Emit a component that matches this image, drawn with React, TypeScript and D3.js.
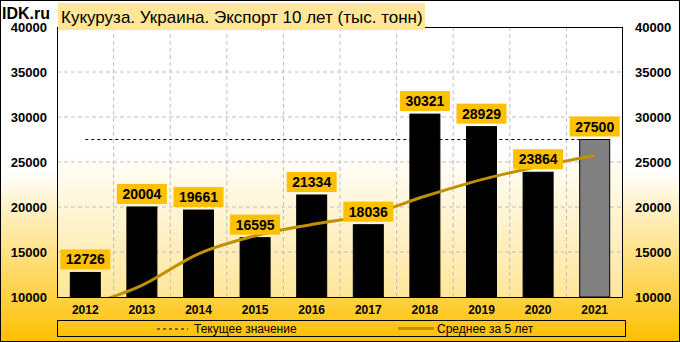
import React, {useEffect, useRef} from "react";
import * as d3 from "d3";

const years = ["2012", "2013", "2014", "2015", "2016", "2017", "2018", "2019", "2020", "2021"]
const exportValues = [12726, 20004, 19661, 16595, 21334, 18036, 30321, 28929, 23864, 27500]
const avg5Values = [9000, 11300, 14800, 16800, 18064, 19126, 21189, 23043, 24497, 25730]
const currentValue = 27500
const yTicks = [10000, 15000, 20000, 25000, 30000, 35000, 40000]

const title = "Кукуруза. Украина. Экспорт 10 лет (тыс. тонн)"
const legendCurrent = "Текущее значение"
const legendAvg = "Среднее за 5 лет"

const W = 680, H = 342
const FONT = "'Liberation Sans', Arial, sans-serif"

const App = () => {
    const ref = useRef<SVGSVGElement>(null)

    useEffect(() => {
        const svg = d3.select(ref.current)
        svg.selectAll("*").remove()

        const plot = {left: 57, right: 623, top: 27, bottom: 297}

        const x = d3.scaleBand().domain(years).range([plot.left, plot.right])
        const y = d3.scaleLinear().domain([10000, 40000]).range([plot.bottom, plot.top])
        const barW = x.bandwidth() * 0.53
        const cx = (d) => x(d) + x.bandwidth() / 2

        const defs = svg.append("defs")
        const g1 = defs.append("linearGradient").attr("id", "bgGrad")
            .attr("x1", 0).attr("y1", 0).attr("x2", 0).attr("y2", 1)
        g1.append("stop").attr("offset", "0").attr("stop-color", "#ffffff")
        g1.append("stop").attr("offset", "0.5").attr("stop-color", "#ffffff")
        g1.append("stop").attr("offset", "1").attr("stop-color", "#ffc000")
        const g2 = defs.append("linearGradient").attr("id", "plotGrad")
            .attr("x1", 0).attr("y1", 0).attr("x2", 0).attr("y2", 1)
        g2.append("stop").attr("offset", "0").attr("stop-color", "#ffffff")
        g2.append("stop").attr("offset", "0.45").attr("stop-color", "#ffffff")
        g2.append("stop").attr("offset", "1").attr("stop-color", "#ffe699")
        defs.append("clipPath").attr("id", "plotClip")
            .append("rect")
            .attr("x", plot.left).attr("y", plot.top)
            .attr("width", plot.right - plot.left).attr("height", plot.bottom - plot.top)

        // background
        svg.append("rect")
            .attr("x", 0.5).attr("y", 0.5).attr("width", W - 1).attr("height", H - 1)
            .attr("fill", "url(#bgGrad)").attr("stroke", "#000")
        svg.append("rect")
            .attr("x", plot.left).attr("y", plot.top)
            .attr("width", plot.right - plot.left).attr("height", plot.bottom - plot.top)
            .attr("fill", "url(#plotGrad)")

        // gridlines
        svg.append("g").selectAll("line").data(yTicks.slice(1, -1)).join("line")
            .attr("x1", plot.left).attr("x2", plot.right)
            .attr("y1", d => y(d)).attr("y2", d => y(d))
            .attr("stroke", "#c0c0c0").attr("stroke-dasharray", "4,3")
        svg.append("g").selectAll("line").data(years.slice(1)).join("line")
            .attr("x1", d => x(d)).attr("x2", d => x(d))
            .attr("y1", plot.top).attr("y2", plot.bottom)
            .attr("stroke", "#c0c0c0").attr("stroke-dasharray", "4,3")

        // current value line
        svg.append("line")
            .attr("x1", cx(years[0])).attr("x2", cx(years[years.length - 1]))
            .attr("y1", y(currentValue)).attr("y2", y(currentValue))
            .attr("stroke", "#000").attr("stroke-dasharray", "3,3")

        // bars
        svg.append("g").selectAll("rect").data(exportValues).join("rect")
            .attr("x", (d, i) => cx(years[i]) - barW / 2)
            .attr("y", d => y(d))
            .attr("width", barW)
            .attr("height", d => plot.bottom - y(d))
            .attr("fill", (d, i) => i === years.length - 1 ? "#808080" : "#000")
            .attr("stroke", "#000")

        // 5 year average
        const avgLine = d3.line<number>()
            .x((d, i) => cx(years[i]))
            .y(d => y(d))
            .curve(d3.curveCatmullRom.alpha(0))
        svg.append("path")
            .attr("clip-path", "url(#plotClip)")
            .attr("d", avgLine(avg5Values))
            .attr("fill", "none")
            .attr("stroke", "#bf9000")
            .attr("stroke-width", 3)

        // plot border
        svg.append("rect")
            .attr("x", plot.left + 0.5).attr("y", plot.top + 0.5)
            .attr("width", plot.right - plot.left - 1).attr("height", plot.bottom - plot.top)
            .attr("fill", "none").attr("stroke", "#000")

        // value labels
        const labels = svg.append("g").selectAll("g").data(exportValues).join("g")
            .attr("transform", (d, i) => `translate(${cx(years[i])}, ${y(d) - 3})`)
        labels.append("rect")
            .attr("x", -25).attr("y", -20).attr("width", 50).attr("height", 20)
            .attr("fill", "#ffc000")
        labels.append("text")
            .attr("y", -5)
            .attr("text-anchor", "middle")
            .attr("font-family", FONT).attr("font-weight", "bold").attr("font-size", 14)
            .text(d => d)

        // axes labels
        svg.append("g").selectAll("text").data(yTicks).join("text")
            .attr("x", 47).attr("y", d => y(d) + 5)
            .attr("text-anchor", "end")
            .attr("font-family", FONT).attr("font-weight", "bold").attr("font-size", 13)
            .text(d => d)
        svg.append("g").selectAll("text").data(yTicks).join("text")
            .attr("x", 635).attr("y", d => y(d) + 5)
            .attr("font-family", FONT).attr("font-weight", "bold").attr("font-size", 13)
            .text(d => d)
        svg.append("g").selectAll("text").data(years).join("text")
            .attr("x", d => cx(d)).attr("y", 314)
            .attr("text-anchor", "middle")
            .attr("font-family", FONT).attr("font-weight", "bold").attr("font-size", 12)
            .text(d => d)

        // title
        svg.append("rect")
            .attr("x", 58).attr("y", 3).attr("width", 367).attr("height", 27)
            .attr("fill", "#ffe699")
        svg.append("text")
            .attr("x", 61).attr("y", 23)
            .attr("font-family", FONT).attr("font-size", 17)
            .text(title)
        svg.append("text")
            .attr("x", 2).attr("y", 19)
            .attr("font-family", FONT).attr("font-weight", "bold").attr("font-size", 16)
            .text("IDK.ru")

        // legend
        svg.append("rect")
            .attr("x", 57.5).attr("y", 320.5).attr("width", 568).attr("height", 16)
            .attr("fill", "none").attr("stroke", "#000")
        svg.append("line")
            .attr("x1", 157).attr("x2", 188).attr("y1", 329).attr("y2", 329)
            .attr("stroke", "#000").attr("stroke-dasharray", "3,3")
        svg.append("text")
            .attr("x", 194).attr("y", 333)
            .attr("font-family", FONT).attr("font-size", 12)
            .text(legendCurrent)
        svg.append("line")
            .attr("x1", 398).attr("x2", 434).attr("y1", 328.5).attr("y2", 328.5)
            .attr("stroke", "#bf9000").attr("stroke-width", 3)
        svg.append("text")
            .attr("x", 437).attr("y", 333)
            .attr("font-family", FONT).attr("font-size", 12)
            .text(legendAvg)
    }, [])

    return <svg ref={ref} width={W} height={H}
                style={{position: "absolute", left: 0, top: 0, display: "block"}}/>
}

export default App
